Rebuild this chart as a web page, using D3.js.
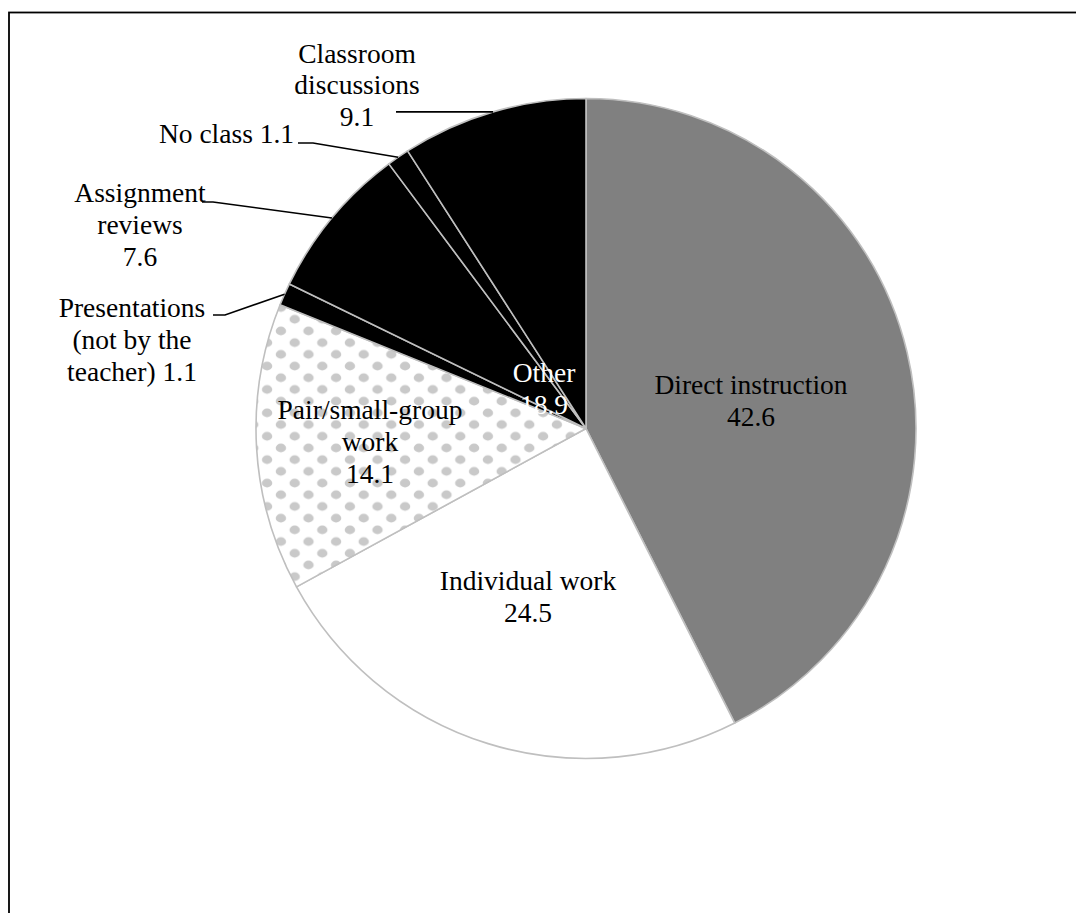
<!DOCTYPE html>
<html>
<head>
<meta charset="utf-8">
<script src="https://cdn.jsdelivr.net/npm/d3@7"></script>
<style>
  html, body { margin: 0; padding: 0; background: #fff; }
  svg { display: block; }
</style>
</head>
<body>
<div id="chart"></div>
<script>
// data
const categories = [
  "Direct instruction",
  "Individual work",
  "Pair/small-group work",
  "Presentations (not by the teacher)",
  "Assignment reviews",
  "No class",
  "Classroom discussions"
];
const values = [42.6, 24.5, 14.1, 1.1, 7.6, 1.1, 9.1];
// how each label is broken into lines (value goes on its own line or at the end)
const labelLines = [
  ["Direct instruction"],
  ["Individual work"],
  ["Pair/small-group", "work"],
  ["Presentations", "(not by the", "teacher)"],
  ["Assignment", "reviews"],
  ["No class"],
  ["Classroom", "discussions"]
];
const valueInline = [false, false, false, true, false, true, false];
const otherGroup = ["Presentations (not by the teacher)", "Assignment reviews", "No class", "Classroom discussions"];

// layout
const W = 1076, H = 913;
const cx = 586, cy = 428.5, R = 330;
const fontSize = 27.5, lineH = 31.8;
const serif = "'Liberation Serif', 'Times New Roman', Times, serif";

// label anchor (center x, first baseline) and leader elbows, by category
const labelPos = {
  "Direct instruction": { x: 751, y: 394 },
  "Individual work": { x: 528, y: 590 },
  "Pair/small-group work": { x: 370, y: 419 },
  "Presentations (not by the teacher)": { x: 132, y: 317, lead: [[213, 315], [225, 315]] },
  "Assignment reviews": { x: 140, y: 202, lead: [[202, 202], [213, 202]] },
  "No class": { x: 226.5, y: 143, lead: [[298, 143], [313, 143]] },
  "Classroom discussions": { x: 357, y: 62.5, lead: [[396, 112]] }
};
const otherPos = { x: 544, y: 382 };

const fillOf = {
  "Direct instruction": "#808080",
  "Individual work": "#ffffff",
  "Pair/small-group work": "url(#dots)"
};

const svg = d3.select("#chart").append("svg")
  .attr("width", W)
  .attr("height", H);

// dotted pattern for pair work
const pat = svg.append("defs").append("pattern")
  .attr("id", "dots")
  .attr("patternUnits", "userSpaceOnUse")
  .attr("x", 281.4)
  .attr("y", 446.5)
  .attr("width", 27.6)
  .attr("height", 23.4);
pat.append("rect").attr("width", 27.6).attr("height", 23.4).attr("fill", "#fff");
[[6.9, 5.85], [20.7, 17.55]].forEach(p => {
  pat.append("ellipse")
    .attr("cx", p[0]).attr("cy", p[1])
    .attr("rx", 5.2).attr("ry", 4.3)
    .attr("fill", "#c9c9c9");
});

// frame (only top and left visible)
svg.append("rect")
  .attr("x", 9).attr("y", 12.5)
  .attr("width", 1200).attr("height", 1200)
  .attr("fill", "none")
  .attr("stroke", "#000")
  .attr("stroke-width", 1.8);

const data = categories.map((c, i) => ({ name: c, value: values[i], idx: i }));

const pie = d3.pie().sort(null).value(d => d.value);
const arcs = pie(data);

const arc = d3.arc().innerRadius(0).outerRadius(R);
const edgeArc = d3.arc().innerRadius(R).outerRadius(R);

const g = svg.append("g").attr("transform", `translate(${cx},${cy})`);

g.selectAll("path.slice")
  .data(arcs)
  .join("path")
  .attr("class", "slice")
  .attr("d", arc)
  .attr("fill", d => fillOf[d.data.name] || "#000")
  .attr("stroke", "#bfbfbf")
  .attr("stroke-width", 1.6)
  .attr("stroke-linejoin", "round");

// leader lines
const line = d3.line();
arcs.forEach(d => {
  const lp = labelPos[d.data.name];
  if (!lp.lead) return;
  const e = edgeArc.centroid(d);
  const pts = lp.lead.map(p => p.slice()).concat([[cx + e[0], cy + e[1]]]);
  if (lp.lead.length === 1) pts[0][1] = cy + e[1];
  svg.append("path")
    .attr("d", line(pts))
    .attr("fill", "none")
    .attr("stroke", "#000")
    .attr("stroke-width", 1.6);
});

// labels
function drawLabel(lines, pos, color) {
  const t = svg.append("text")
    .attr("text-anchor", "middle")
    .attr("font-family", serif)
    .attr("font-size", fontSize)
    .attr("fill", color);
  lines.forEach((s, k) => {
    t.append("tspan")
      .attr("x", pos.x)
      .attr("y", pos.y + k * lineH)
      .text(s);
  });
}

data.forEach(d => {
  const lines = labelLines[d.idx].slice();
  const v = d3.format(".1f")(d.value);
  if (valueInline[d.idx]) lines[lines.length - 1] += " " + v;
  else lines.push(v);
  drawLabel(lines, labelPos[d.name], "#000");
});

const otherSum = d3.sum(data.filter(d => otherGroup.includes(d.name)), d => d.value);
drawLabel(["Other", d3.format(".1f")(otherSum)], otherPos, "#fff");
</script>
</body>
</html>
